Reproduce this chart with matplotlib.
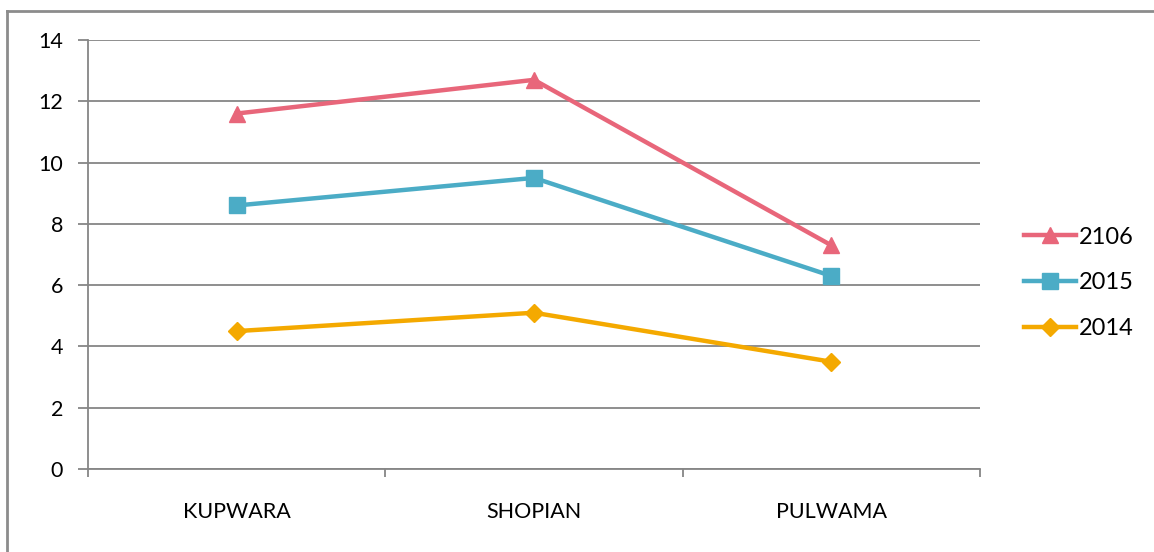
import matplotlib.pyplot as plt
from matplotlib.lines import Line2D

districts = ["KUPWARA", "SHOPIAN", "PULWAMA"]
vals_2106 = [11.6, 12.7, 7.3]
vals_2015 = [8.6, 9.5, 6.3]
vals_2014 = [4.5, 5.1, 3.5]
y_ticks = [0, 2, 4, 6, 8, 10, 12, 14]

plt.rcParams['font.family'] = ['Lato', 'DejaVu Sans']

fig = plt.figure(figsize=(11.54, 5.52), dpi=100)
ax = fig.add_axes([88 / 1154, 1 - 469 / 552, (980 - 88) / 1154, (469 - 40) / 552])

x = list(range(len(districts)))
ax.plot(x, vals_2106, color="#E8667A", lw=3.2, marker="^", ms=12, label="2106", zorder=3)
ax.plot(x, vals_2015, color="#4BACC6", lw=3.2, marker="s", ms=11, label="2015", zorder=3)
ax.plot(x, vals_2014, color="#F4A900", lw=3.2, marker="D", ms=9, label="2014", zorder=3)

ax.set_xlim(-0.5, 2.5)
ax.set_ylim(0, 14)
ax.set_yticks(y_ticks)
ax.set_xticks(x)
ax.set_xticklabels(districts)
ax.set_xticks([-0.5, 0.5, 1.5, 2.5], minor=True)
ax.tick_params(axis="x", which="major", length=0, pad=24, labelsize=15.5)
ax.tick_params(axis="x", which="minor", length=6, color="#868686", width=1.3)
ax.tick_params(axis="y", length=7, color="#868686", width=1.3, labelsize=15.5, pad=11)

ax.grid(axis="y", color="#868686", lw=1.3)
ax.set_axisbelow(True)
for s in ["top", "right"]:
    ax.spines[s].set_visible(False)
for s in ["left", "bottom"]:
    ax.spines[s].set_color("#868686")
    ax.spines[s].set_linewidth(1.3)

fig.legend(loc="center left", bbox_to_anchor=(1003 / 1154, 1 - 283 / 552), frameon=False,
           fontsize=17, handlelength=2.2, labelspacing=1.05, handletextpad=0.1)

# chart frame (only top and left edges visible)
fig.add_artist(Line2D([7 / 1154, 7 / 1154], [0, 1 - 11 / 552], color="#8C8C8C", lw=2))
fig.add_artist(Line2D([7 / 1154, 1], [1 - 11 / 552, 1 - 11 / 552], color="#8C8C8C", lw=2))

fig.savefig("out.png", dpi=100)
